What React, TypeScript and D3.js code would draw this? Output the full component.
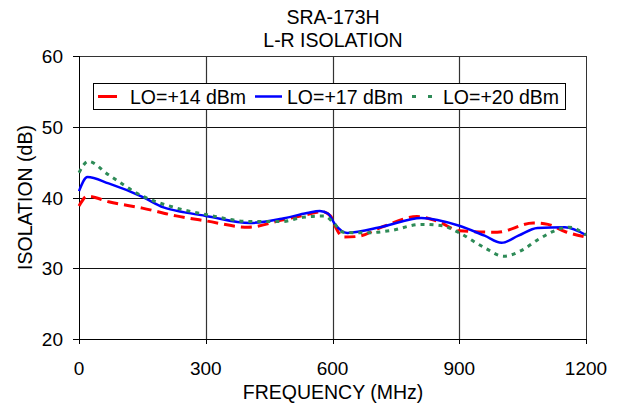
import React from "react";
import * as d3 from "d3";

const title1 = "SRA-173H";
const title2 = "L-R ISOLATION";
const xTicks = [0, 300, 600, 900, 1200];
const yTicks = [20, 30, 40, 50, 60];

const freq14 = [0, 20, 70, 150, 230, 300, 400, 480, 540, 575, 595, 610, 625, 660, 720, 800, 850, 900, 990, 1075, 1110, 1150, 1200];
const iso14 = [38.8, 40.2, 39.4, 38.5, 37.4, 36.7, 35.8, 36.8, 37.6, 38.0, 37.4, 35.5, 34.4, 34.5, 35.9, 37.3, 36.6, 35.3, 35.1, 36.4, 36.2, 35.2, 34.4];

const freq17 = [0, 20, 70, 150, 200, 250, 300, 405, 480, 540, 570, 590, 605, 635, 720, 810, 900, 960, 1000, 1040, 1085, 1150, 1200];
const iso17 = [40.9, 42.9, 42.0, 40.1, 38.6, 37.9, 37.4, 36.4, 37.0, 37.8, 38.1, 37.7, 36.3, 35.0, 35.9, 37.1, 36.0, 34.6, 33.6, 34.6, 35.7, 35.8, 34.7];

const freq20 = [0, 22, 70, 150, 225, 300, 405, 480, 530, 580, 600, 625, 680, 735, 810, 860, 900, 960, 1005, 1050, 1085, 1160, 1200];
const iso20 = [43.5, 45.1, 43.2, 40.2, 38.6, 37.6, 36.6, 36.6, 37.2, 37.4, 36.6, 35.1, 35.0, 35.3, 36.2, 36.0, 35.0, 32.9, 31.7, 32.6, 34.0, 35.8, 34.7];

const seriesNames = ["LO=+14 dBm", "LO=+17 dBm", "LO=+20 dBm"];

const FONT = "Arial, 'Liberation Sans', sans-serif";
const FS = 19.5;

export default function App() {
  const W = 622, H = 407;
  const left = 79, right = 586, top = 56, bottom = 339;
  const x = d3.scaleLinear().domain([0, 1200]).range([left, right]);
  const y = d3.scaleLinear().domain([20, 60]).range([bottom, top]);
  const line = d3.line<[number, number]>()
    .x(d => x(d[0]))
    .y(d => y(d[1]))
    .curve(d3.curveMonotoneX);

  const series = [
    { f: freq14, v: iso14, color: "#FF0000", width: 3, dash: "11,6" },
    { f: freq17, v: iso17, color: "#0000FF", width: 2.5, dash: undefined },
    { f: freq20, v: iso20, color: "#2E8B57", width: 3, dash: "4,5" },
  ];

  return (
    <svg width={W} height={H} style={{ position: "absolute", left: 0, top: 0, background: "#fff" }} fontFamily={FONT}>
      <rect x={0} y={0} width={W} height={H} fill="#fff" />
      {/* grid */}
      {yTicks.filter(t => t !== 20 && t !== 60).map(t => (
        <line key={"h" + t} x1={left} x2={right} y1={Math.round(y(t)) + 0.5} y2={Math.round(y(t)) + 0.5} stroke="#111" strokeWidth={1} />
      ))}
      {xTicks.filter(t => t !== 0 && t !== 1200).map(t => (
        <line key={"v" + t} x1={Math.round(x(t)) + 0.5} x2={Math.round(x(t)) + 0.5} y1={top} y2={bottom} stroke="#333" strokeWidth={1.2} />
      ))}
      {/* frame */}
      <line x1={left} x2={right} y1={top + 0.5} y2={top + 0.5} stroke="#333" />
      <line x1={right + 0.5} x2={right + 0.5} y1={top} y2={bottom} stroke="#333" />
      <line x1={left + 0.5} x2={left + 0.5} y1={top} y2={bottom + 5} stroke="#000" />
      <line x1={left - 6} x2={right} y1={bottom + 0.5} y2={bottom + 0.5} stroke="#000" />
      {/* ticks */}
      {yTicks.map(t => (
        <g key={"yt" + t}>
          <line x1={left - 6} x2={left} y1={Math.round(y(t)) + 0.5} y2={Math.round(y(t)) + 0.5} stroke="#000" />
          <text x={63} y={y(t) + 7} textAnchor="end" fontSize={FS - 0.5} fill="#000">{t}</text>
        </g>
      ))}
      {xTicks.map(t => (
        <g key={"xt" + t}>
          <line x1={Math.round(x(t)) + 0.5} x2={Math.round(x(t)) + 0.5} y1={bottom} y2={bottom + 5} stroke="#000" />
          <text x={x(t)} y={375} textAnchor="middle" fontSize={FS - 0.5} fill="#000">{t}</text>
        </g>
      ))}
      {/* curves */}
      {series.map((s, i) => (
        <path key={"s" + i}
          d={line(s.f.map((f, j) => [f, s.v[j]] as [number, number])) || ""}
          fill="none" stroke={s.color} strokeWidth={s.width}
          strokeDasharray={s.dash} strokeLinejoin="round" />
      ))}
      {/* titles */}
      <text x={333} y={24} textAnchor="middle" fontSize={FS} fill="#000">{title1}</text>
      <text x={333} y={47} textAnchor="middle" fontSize={FS} fill="#000">{title2}</text>
      <text x={333} y={399} textAnchor="middle" fontSize={FS} fill="#000">FREQUENCY (MHz)</text>
      <text transform={`translate(32,${(top + bottom) / 2}) rotate(-90)`} textAnchor="middle" fontSize={FS} fill="#000">ISOLATION (dB)</text>
      {/* legend */}
      <rect x={93.5} y={83.5} width={472} height={26} fill="#fff" stroke="#000" strokeWidth={1} />
      <line x1={98} x2={117} y1={96.5} y2={96.5} stroke="#FF0000" strokeWidth={3} />
      <text x={130} y={103.5} fontSize={FS} fill="#000">{seriesNames[0]}</text>
      <line x1={255} x2={282} y1={96.5} y2={96.5} stroke="#0000FF" strokeWidth={2.5} />
      <text x={287} y={103.5} fontSize={FS} fill="#000">{seriesNames[1]}</text>
      <line x1={412} x2={433} y1={96.5} y2={96.5} stroke="#2E8B57" strokeWidth={3} strokeDasharray="4,12" />
      <text x={443} y={103.5} fontSize={FS} fill="#000">{seriesNames[2]}</text>
    </svg>
  );
}
